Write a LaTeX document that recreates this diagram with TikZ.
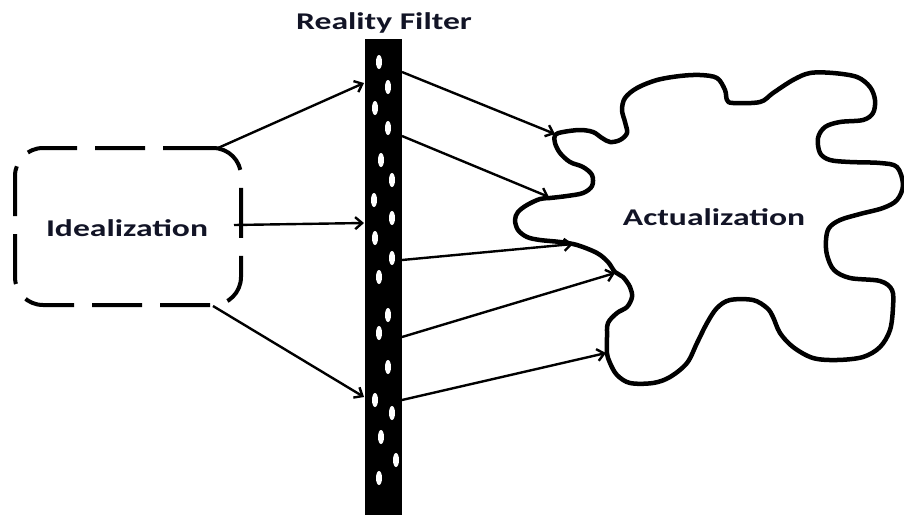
\documentclass[tikz,border=0pt]{standalone}
\usepackage{fontspec}
\setmainfont{Carlito}
\usetikzlibrary{arrows.meta}
\definecolor{txtcol}{RGB}{18,20,38}
\tikzset{
  conn/.style={line width=2.4pt,-{Straight Barb[length=7pt,width=12pt]}},
  lbl/.style={anchor=base,text=txtcol,font=\fontsize{24}{27}\selectfont\bfseries,inner sep=0pt},
  hole/.style={fill=white},
}
\newcommand{\wide}[1]{\scalebox{1.4}[1]{#1}}
\begin{document}
\begin{tikzpicture}[x=1pt,y=-1pt]
\useasboundingbox (0,0) rectangle (904,517);
% filter
\node[fill=black,minimum width=37pt,minimum height=476pt,inner sep=0pt] (filter) at (383.5,277) {};
\foreach \px/\py in {379/62,388/87,375/108,388/128,381/160,392/180,374/200,392/218,375/238,392/258,379/277,388/315,379/333,388/367,375/400,392/413,381/437,396/460,379/478}
  \fill[hole] (\px,\py) ellipse [x radius=3pt, y radius=7pt];
\node[lbl] (title) at (384,29) {\wide{Reality Filter}};
% idealization box
\node[draw,line width=4pt,dash pattern=on 50pt off 18pt,rounded corners=28pt,minimum width=226pt,minimum height=157pt,inner sep=0pt] (ideal) at (128,226.5) {};
\node[lbl] (idealtxt) at (127,236.5) {\wide{Idealization}};
% cloud
\draw[line width=4.5pt,line join=round] plot[smooth cycle,tension=0.55] coordinates {
(555,135) (563,132) (580,130) (593,132) (602,138) (610,142) (620,140) (627,133) (625,122) (622,110) (625,98) (637,88) (657,80) (680,76) (700,75) (717,78) (725,90) (727,100) (733,103) (760,102) (773,93) (793,80) (810,73) (833,73) (857,77) (870,87) (875,100) (873,113) (863,120) (840,122) (825,127) (818,138) (820,153) (830,160) (850,162) (880,163) (897,167) (903,185) (897,200) (883,208) (860,214) (840,220) (829,228) (826,240) (827,255) (834,270) (850,278) (880,281) (892,290) (893,307) (890,330) (880,347) (863,357) (837,360) (813,358) (793,347) (780,333) (773,317) (767,308) (753,300) (730,300) (717,308) (707,323) (697,343) (687,363) (670,377) (653,383) (630,383) (617,375) (610,363) (607,353) (607,337) (608,323) (617,313) (627,307) (632,297) (630,287) (623,277) (615,272) (608,262) (597,253) (577,245) (560,242) (540,240) (527,237) (518,230) (515,220) (518,212) (527,205) (540,199) (550,198) (567,196) (583,193) (592,186) (592,175) (583,167) (570,162) (560,153) (555,143)};
\node[lbl] (actual) at (714,225.5) {\wide{Actualization}};
% connector end points
\coordinate (i1) at (218,148);
\coordinate (i2) at (234,225);
\coordinate (i3) at (213,306);
\coordinate (f1) at (364,83);
\coordinate (f2) at (364,223);
\coordinate (f3) at (364,397);
\coordinate (o1) at (402,72);
\coordinate (o2) at (402,136);
\coordinate (o3) at (402,260);
\coordinate (o4) at (402,337);
\coordinate (o5) at (402,400);
\coordinate (c1) at (555,134);
\coordinate (c2) at (549,197);
\coordinate (c3) at (573,244);
\coordinate (c4) at (615,273);
\coordinate (c5) at (606,353);
\draw[conn] (i1) -- (f1);
\draw[conn] (i2) -- (f2);
\draw[conn] (i3) -- (f3);
\draw[conn] (o1) -- (c1);
\draw[conn] (o2) -- (c2);
\draw[conn] (o3) -- (c3);
\draw[conn] (o4) -- (c4);
\draw[conn] (o5) -- (c5);
\end{tikzpicture}
\end{document}
